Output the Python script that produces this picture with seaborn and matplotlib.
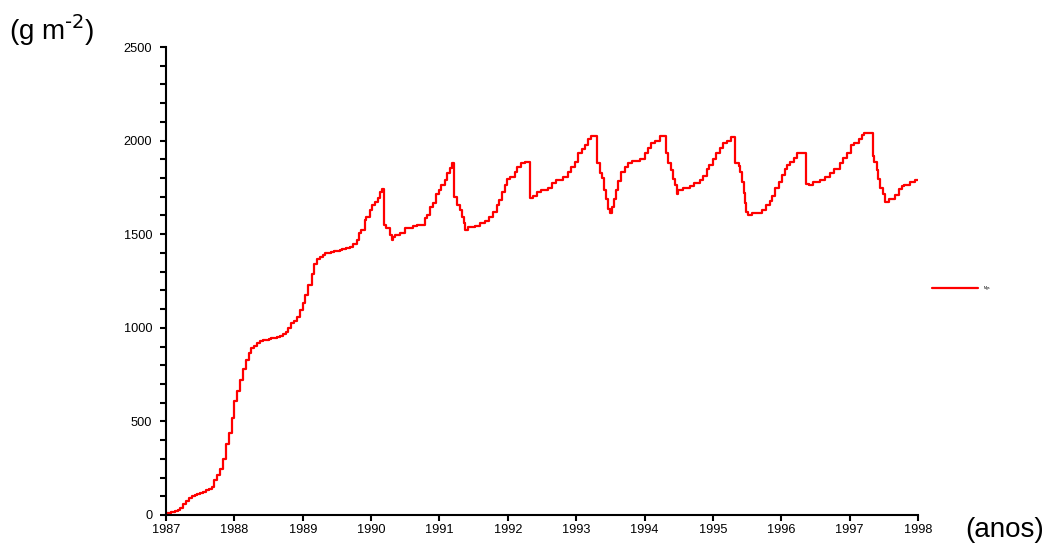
import numpy as np
import pandas as pd
import seaborn as sns
import matplotlib
matplotlib.use("Agg")
import matplotlib.pyplot as plt
from matplotlib.ticker import MultipleLocator

# biomass (g m-2), step starts in decimal years
# 1987 - mid 1989: establishment phase, half-month steps
t_rise = [1987.00, 1987.04, 1987.08, 1987.13, 1987.17, 1987.21, 1987.25, 1987.29,
          1987.33, 1987.38, 1987.42, 1987.46, 1987.50, 1987.54, 1987.58, 1987.63,
          1987.67, 1987.71, 1987.75, 1987.79, 1987.83, 1987.88, 1987.92, 1987.96,
          1988.00, 1988.04, 1988.08, 1988.13, 1988.17, 1988.21, 1988.25, 1988.29,
          1988.33, 1988.38, 1988.42, 1988.46, 1988.50, 1988.54, 1988.58, 1988.63,
          1988.67, 1988.71, 1988.75, 1988.79, 1988.83, 1988.88, 1988.92, 1988.96,
          1989.00, 1989.04, 1989.08, 1989.13, 1989.17, 1989.21, 1989.25, 1989.29,
          1989.33, 1989.38, 1989.42, 1989.46, 1989.50, 1989.54, 1989.58, 1989.63]
v_rise = [12, 12, 15, 23, 25, 37, 60, 75, 91, 100, 107, 110, 119, 125, 135, 140,
          150, 185, 215, 245, 300, 380, 440, 520,
          610, 660, 720, 780, 830, 865, 890, 905, 918, 930, 935, 935, 940, 945, 945, 950,
          955, 965, 980, 1000, 1025, 1035, 1060, 1095,
          1130, 1175, 1230, 1290, 1340, 1368, 1380, 1390, 1398, 1400, 1405, 1408,
          1410, 1415, 1420, 1425]

# late 1989 - 1992: growth / harvest cycles
t_cyc1 = [1989.69, 1989.74, 1989.79, 1989.83, 1989.86, 1989.91, 1989.93, 1989.98,
          1990.01, 1990.06, 1990.10, 1990.13, 1990.16, 1990.19, 1990.22, 1990.27,
          1990.30, 1990.32, 1990.35, 1990.42, 1990.49, 1990.62, 1990.67, 1990.79,
          1990.82, 1990.86, 1990.90, 1990.95, 1991.00, 1991.03, 1991.08, 1991.11,
          1991.15, 1991.19, 1991.21, 1991.26, 1991.30, 1991.33, 1991.36, 1991.38,
          1991.42, 1991.52, 1991.59, 1991.66, 1991.73, 1991.79, 1991.84, 1991.87,
          1991.92, 1991.96, 1991.99, 1992.03, 1992.10, 1992.14, 1992.20, 1992.25,
          1992.32, 1992.37, 1992.42, 1992.49, 1992.59, 1992.65, 1992.70]
v_cyc1 = [1433, 1450, 1468, 1505, 1523, 1576, 1594, 1629,
          1656, 1674, 1692, 1727, 1740, 1549, 1531, 1496,
          1469, 1487, 1496, 1509, 1531, 1544, 1549, 1585,
          1603, 1643, 1665, 1714, 1736, 1763, 1790, 1825,
          1852, 1882, 1700, 1656, 1629, 1594, 1558, 1523,
          1537, 1544, 1558, 1572, 1594, 1620, 1656, 1683,
          1727, 1763, 1794, 1805, 1834, 1861, 1879, 1888,
          1692, 1705, 1723, 1734, 1747, 1772, 1787]

# late 1992 - 1995
t_cyc2 = [1992.76, 1992.81, 1992.88, 1992.93, 1992.98, 1993.03, 1993.08, 1993.13,
          1993.17, 1993.21, 1993.31, 1993.35, 1993.38, 1993.41, 1993.43, 1993.47,
          1993.49, 1993.52, 1993.55, 1993.58, 1993.61, 1993.66, 1993.71, 1993.76,
          1993.81, 1993.93, 1994.00, 1994.05, 1994.10, 1994.15, 1994.22, 1994.31,
          1994.34, 1994.38, 1994.41, 1994.44, 1994.47, 1994.49, 1994.56, 1994.66,
          1994.73, 1994.81, 1994.86, 1994.91, 1994.95, 1995.00, 1995.05, 1995.10,
          1995.15, 1995.20, 1995.26, 1995.33, 1995.38]
v_cyc2 = [1790, 1808, 1834, 1861, 1888, 1932, 1953, 1976,
          2007, 2027, 1882, 1825, 1799, 1737, 1686, 1633,
          1615, 1647, 1686, 1734, 1782, 1834, 1861, 1879,
          1893, 1902, 1932, 1959, 1985, 2000, 2025, 1932,
          1882, 1843, 1794, 1763, 1714, 1734, 1745, 1756,
          1774, 1790, 1812, 1847, 1870, 1900, 1932, 1959,
          1985, 2000, 2021, 1882, 1865]

# 1995 - 1998
t_cyc3 = [1995.40, 1995.42, 1995.45, 1995.47, 1995.49, 1995.52, 1995.57, 1995.72,
          1995.78, 1995.83, 1995.86, 1995.91, 1995.96, 1996.01, 1996.05, 1996.08,
          1996.13, 1996.18, 1996.23, 1996.36, 1996.40, 1996.47, 1996.57, 1996.64,
          1996.71, 1996.77, 1996.86, 1996.91, 1996.96, 1997.02, 1997.06, 1997.13,
          1997.18, 1997.21, 1997.34, 1997.36, 1997.40, 1997.42, 1997.45, 1997.49,
          1997.51, 1997.57, 1997.67, 1997.72, 1997.76, 1997.80, 1997.89, 1997.95,
          1998.00]
v_cyc3 = [1830, 1780, 1720, 1665, 1620, 1600, 1615, 1629,
          1656, 1677, 1705, 1747, 1777, 1816, 1847, 1870,
          1888, 1905, 1932, 1770, 1763, 1777, 1790, 1805,
          1829, 1847, 1879, 1905, 1935, 1976, 1989, 2007,
          2030, 2039, 1920, 1888, 1843, 1794, 1747, 1716,
          1670, 1690, 1710, 1740, 1756, 1763, 1777, 1787,
          1787]

series_label = "Mgs"


def build_frame():
    df = pd.DataFrame({
        "ano": t_rise + t_cyc1 + t_cyc2 + t_cyc3,
        "biomassa": v_rise + v_cyc1 + v_cyc2 + v_cyc3,
    })
    return df


def plot_data(df, output_file):
    sns.set_style("ticks")
    plt.rcParams["font.family"] = ["Liberation Sans", "DejaVu Sans"]
    plt.rcParams["mathtext.default"] = "regular"
    plt.rcParams["text.color"] = "black"

    fig = plt.figure(figsize=(10.47, 5.46), dpi=100)
    ax = fig.add_axes([0.1585, 0.0568, 0.7183, 0.8571])

    sns.lineplot(data=df, x="ano", y="biomassa", ax=ax, color="#ff0000",
                 linewidth=1.6, drawstyle="steps-post", label=series_label)

    ax.set_xlim(1987, 1998)
    ax.set_ylim(0, 2500)
    ax.xaxis.set_major_locator(MultipleLocator(1))
    ax.yaxis.set_major_locator(MultipleLocator(500))
    ax.yaxis.set_minor_locator(MultipleLocator(100))
    ax.set_xlabel("")
    ax.set_ylabel("")
    sns.despine(ax=ax)
    for side in ("left", "bottom"):
        ax.spines[side].set_linewidth(1.5)
        ax.spines[side].set_color("black")
    ax.tick_params(which="both", direction="out", length=4.3, width=1.5,
                   colors="black", labelsize=9.2)
    ax.tick_params(axis="y", pad=5.5)
    ax.tick_params(axis="x", pad=2.5)

    # units as free text, like the original (hyphen, not a minus sign)
    fig.text(0.009, 0.945, r"(g m$^{\text{-2}}$)", fontsize=20,
             ha="left", va="center", color="black")
    fig.text(0.922, 0.03, "(anos)", fontsize=20, ha="left", va="center",
             color="black")

    ax.legend(loc="center left", bbox_to_anchor=(1.018, 0.485), frameon=False,
              fontsize=2.5, handlelength=13.5, handletextpad=1.5,
              borderpad=0, borderaxespad=0)

    fig.savefig(output_file, dpi=100)


def main():
    df = build_frame()
    plot_data(df, "out.png")


if __name__ == "__main__":
    main()
